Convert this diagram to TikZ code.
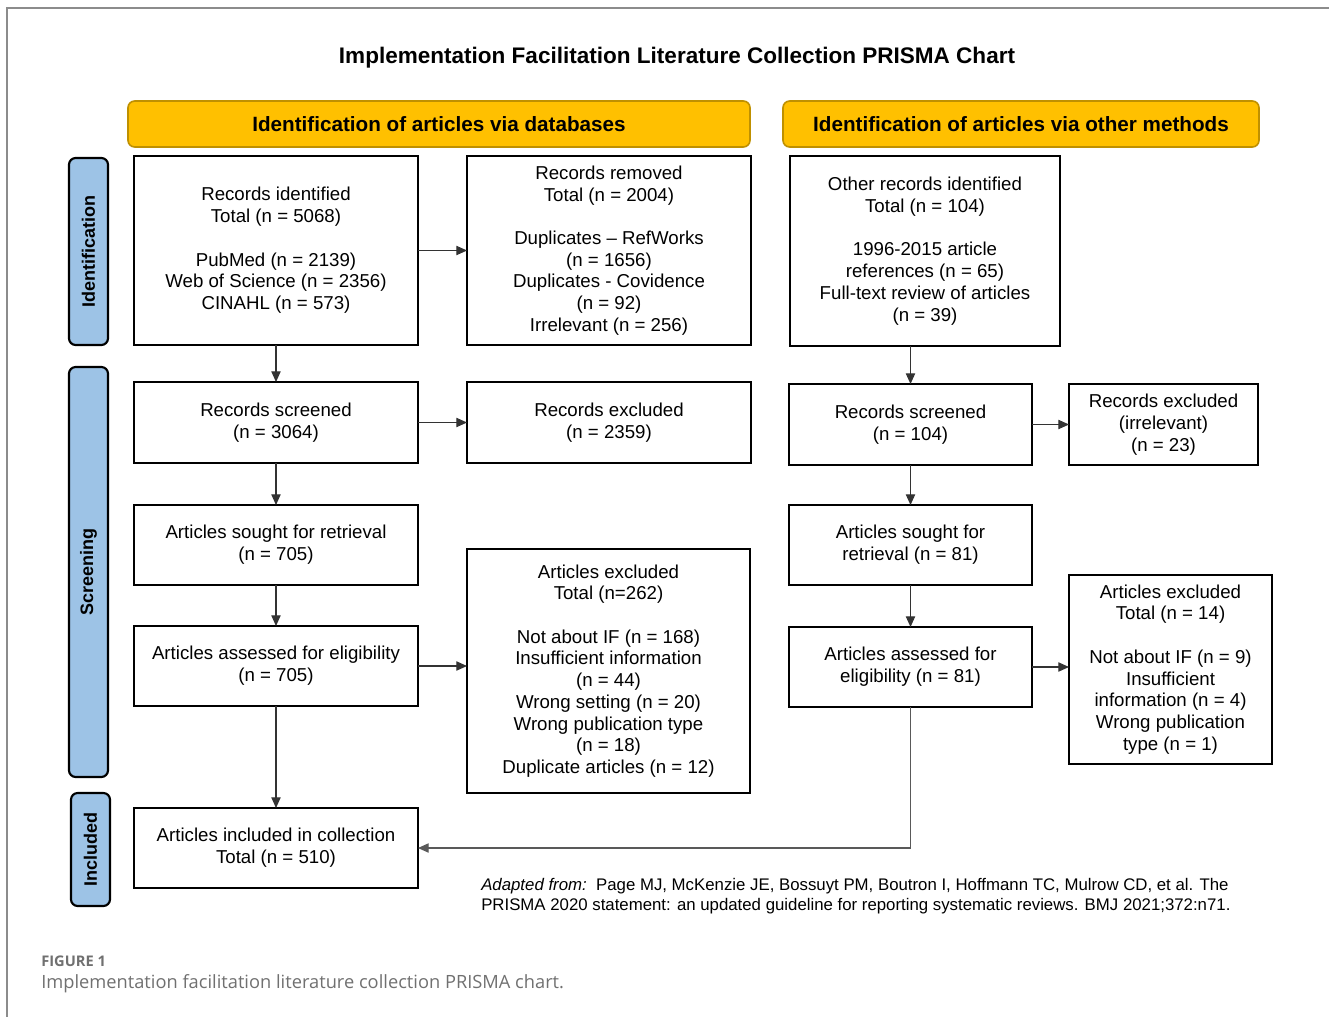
\documentclass[tikz,border=0pt]{standalone}
\usepackage{fontspec}
\setmainfont{Liberation Sans}
\newfontfamily\capfont{Open Sans}
\usepackage{tikz}
\usetikzlibrary{arrows.meta,positioning}
\definecolor{HeadGold}{HTML}{FFC000}
\definecolor{HeadEdge}{HTML}{BF9000}
\definecolor{StageBlue}{HTML}{9DC3E6}
\definecolor{FrameGray}{HTML}{8C8C8C}
\definecolor{CapGray}{HTML}{707070}

\begin{document}
\begin{tikzpicture}[
	x=0.75pt, y=-0.75pt,
	box/.style={draw, line width=1.6pt, outer sep=0pt, align=center, inner sep=2pt, font=\fontsize{14}{16.3}\selectfont},
	head/.style={draw=HeadEdge, fill=HeadGold, line width=1.2pt, rounded corners=5pt, minimum height=34.5pt, font=\bfseries\fontsize{15.5}{18}\selectfont},
	stage/.style={draw, fill=StageBlue, line width=1.6pt, rounded corners=5pt, rotate=90, minimum height=29.25pt, font=\bfseries\fontsize{13.5}{16}\selectfont},
	arrow/.style={-{Triangle[length=8pt,width=7pt]}, line width=0.8pt, black!80}
]
\useasboundingbox (0,0) rectangle (1329,1017);
\draw[FrameGray, line width=1pt] (7,1017) -- (7,8) -- (1329,8);

\node[font=\bfseries\fontsize{16.9}{19}\selectfont] (title) at (677,58) {Implementation Facilitation Literature Collection PRISMA Chart};

\node[head, minimum width=466.5pt] (hdrdb) at (439,124) {Identification of articles via databases};
\node[head, minimum width=357pt] (hdrother) at (1021,124) {Identification of articles via other methods};

\node[stage, minimum width=140.25pt] (stgid) at (88.5,251.5) {Identification};
\node[stage, minimum width=307.5pt] (stgscr) at (88.5,572) {Screening};
\node[stage, minimum width=84.75pt] (stginc) at (90.5,849.5) {Included};

% databases
\node[box, minimum width=213pt, minimum height=141.75pt] (recid) at (276,250.5) {Records identified\\Total (n = 5068)\\[16.3pt]PubMed (n = 2139)\\Web of Science (n = 2356)\\CINAHL (n = 573)};
\node[box, right=36.75pt of recid, minimum width=213pt, minimum height=141.75pt] (removed) {Records removed\\Total (n = 2004)\\[16.3pt]Duplicates -- RefWorks\\(n = 1656)\\Duplicates - Covidence\\(n = 92)\\Irrelevant (n = 256)};
\node[box, below=27.75pt of recid, minimum width=213pt, minimum height=60.75pt] (screened) {Records screened\\(n = 3064)};
\node[box, right=36.75pt of screened, minimum width=213pt, minimum height=60.75pt] (excluded) {Records excluded\\(n = 2359)};
\node[box, below=31.5pt of screened, minimum width=213pt, minimum height=60pt] (sought) {Articles sought for retrieval\\(n = 705)};
\node[box, below=30.75pt of sought, minimum width=213pt, minimum height=60pt] (assessed) {Articles assessed for eligibility\\(n = 705)};
\node[box, minimum width=212.25pt, minimum height=183pt] (artexcl) at (608.5,671) {Articles excluded\\Total (n=262)\\[16.3pt]Not about IF (n = 168)\\Insufficient information\\(n = 44)\\Wrong setting (n = 20)\\Wrong publication type\\(n = 18)\\Duplicate articles (n = 12)};
\node[box, below=76.5pt of assessed, minimum width=213pt, minimum height=60pt] (included) {Articles included in collection\\Total (n = 510)};

% other methods
\node[box, minimum width=202.5pt, minimum height=142.5pt] (othid) at (925,251) {Other records identified\\Total (n = 104)\\[16.3pt]1996-2015 article\\references (n = 65)\\Full-text review of articles\\(n = 39)};
\node[box, minimum width=182.25pt, minimum height=60.75pt] (screened2) at (910.5,424.5) {Records screened\\(n = 104)};
\node[box, right=27.75pt of screened2, minimum width=141.75pt, minimum height=60.75pt] (excluded2) {Records excluded\\(irrelevant)\\(n = 23)};
\node[box, below=30pt of screened2, minimum width=182.25pt, minimum height=60pt] (sought2) {Articles sought for\\retrieval (n = 81)};
\node[box, below=31.5pt of sought2, minimum width=182.25pt, minimum height=60pt] (assessed2) {Articles assessed for\\eligibility (n = 81)};
\node[box, minimum width=152.25pt, minimum height=141.75pt] (artexcl2) at (1170.5,669.5) {Articles excluded\\Total (n = 14)\\[16.3pt]Not about IF (n = 9)\\Insufficient\\information (n = 4)\\Wrong publication\\type (n = 1)};

\draw[arrow] (recid) -- (removed);
\draw[arrow] (recid) -- (screened);
\draw[arrow] (screened) -- (excluded);
\draw[arrow] (screened) -- (sought);
\draw[arrow] (sought) -- (assessed);
\draw[arrow] (assessed.east) -- (assessed.east -| artexcl.west);
\draw[arrow] (assessed) -- (included);
\draw[arrow] (othid.south -| screened2.north) -- (screened2.north);
\draw[arrow] (screened2) -- (excluded2);
\draw[arrow] (screened2) -- (sought2);
\draw[arrow] (sought2) -- (assessed2);
\draw[arrow] (assessed2.east) -- (assessed2.east -| artexcl2.west);
\draw[arrow, black!65] (assessed2.south) |- (included.east);

\node[anchor=west, align=left, inner sep=0pt, font=\fontsize{12.6}{15}\selectfont] (source) at (481,896) {\textit{Adapted from:}\ \ Page MJ, McKenzie JE, Bossuyt PM, Boutron I, Hoffmann TC, Mulrow CD, et al. The\\PRISMA 2020 statement: an updated guideline for reporting systematic reviews. BMJ 2021;372:n71.};

\node[anchor=west, inner sep=0pt, text=CapGray, font=\capfont\bfseries\fontsize{11}{13}\selectfont] (figlabel) at (41,961) {FIGURE 1};
\node[anchor=west, inner sep=0pt, text=CapGray, font=\capfont\fontsize{13.7}{16}\selectfont] (figcaption) at (41,984) {Implementation facilitation literature collection PRISMA chart.};
\end{tikzpicture}
\end{document}
